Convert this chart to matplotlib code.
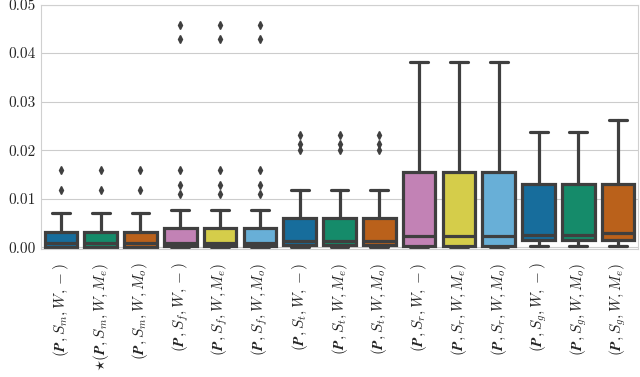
import matplotlib
matplotlib.use("Agg")
import matplotlib.pyplot as plt
import seaborn as sns

# box statistics (per configuration)
labels = [
    r"$(\boldsymbol{P},S_m,W,-)$", r"$\star(\boldsymbol{P},S_m,W,M_e)$", r"$(\boldsymbol{P},S_m,W,M_o)$",
    r"$(\boldsymbol{P},S_f,W,-)$", r"$(\boldsymbol{P},S_f,W,M_e)$", r"$(\boldsymbol{P},S_f,W,M_o)$",
    r"$(\boldsymbol{P},S_t,W,-)$", r"$(\boldsymbol{P},S_t,W,M_e)$", r"$(\boldsymbol{P},S_t,W,M_o)$",
    r"$(\boldsymbol{P},S_r,W,-)$", r"$(\boldsymbol{P},S_r,W,M_e)$", r"$(\boldsymbol{P},S_r,W,M_o)$",
    r"$(\boldsymbol{P},S_g,W,-)$", r"$(\boldsymbol{P},S_g,W,M_o)$", r"$(\boldsymbol{P},S_g,W,M_e)$",
]
whislo = [0.0, 0.0, 0.0, 0.0, 0.0, 0.0, 0.0, 0.0, 0.0, 0.0, 0.0, 0.0, 0.0003, 0.0003, 0.0003]
q1 = [0.0001, 0.0001, 0.0001, 0.0003, 0.0003, 0.0003, 0.0005, 0.0005, 0.0005,
      0.0003, 0.0003, 0.0003, 0.0016, 0.0016, 0.0016]
med = [0.0008, 0.0008, 0.0008, 0.0010, 0.0010, 0.0010, 0.0013, 0.0013, 0.0013,
       0.0023, 0.0023, 0.0023, 0.0025, 0.0025, 0.0030]
q3 = [0.0031, 0.0031, 0.0031, 0.0040, 0.0040, 0.0040, 0.0061, 0.0061, 0.0061,
      0.0156, 0.0156, 0.0156, 0.0131, 0.0131, 0.0131]
whishi = [0.0070, 0.0070, 0.0070, 0.0077, 0.0077, 0.0077, 0.0119, 0.0119, 0.0119,
          0.0381, 0.0381, 0.0381, 0.0237, 0.0237, 0.0263]
fliers = [
    [0.0118, 0.0160], [0.0118, 0.0160], [0.0118, 0.0160],
    [0.0109, 0.0129, 0.0160, 0.0430, 0.0458], [0.0109, 0.0129, 0.0160, 0.0430, 0.0458],
    [0.0109, 0.0129, 0.0160, 0.0430, 0.0458],
    [0.0201, 0.0212, 0.0232], [0.0201, 0.0212, 0.0232], [0.0201, 0.0212, 0.0232],
    [], [], [], [], [], [],
]

sns.set_style("whitegrid")
plt.rcParams["font.family"] = "serif"
plt.rcParams["font.serif"] = ["cmr10"]
plt.rcParams["mathtext.fontset"] = "cm"
plt.rcParams["axes.unicode_minus"] = False

cb = sns.color_palette("colorblind")
base = [cb[0], cb[2], cb[3], cb[4], cb[8], cb[9]]
colors = [sns.desaturate(base[i % 6], 0.75) for i in range(len(labels))]
line_c = "#3f3f3f"

stats = []
for i in range(len(labels)):
    stats.append(dict(whislo=whislo[i], q1=q1[i], med=med[i], q3=q3[i],
                      whishi=whishi[i], fliers=fliers[i]))

fig = plt.figure(figsize=(6.4, 3.77), dpi=100)
ax = fig.add_axes([0.064, 0.34, 0.933, 0.648])

bp = ax.bxp(stats, positions=range(len(labels)), widths=0.82, patch_artist=True,
            capwidths=0.45,
            boxprops=dict(linewidth=2.3, edgecolor=line_c),
            medianprops=dict(linewidth=2.3, color=line_c),
            whiskerprops=dict(linewidth=2.3, color=line_c),
            capprops=dict(linewidth=2.3, color=line_c),
            flierprops=dict(marker="d", markersize=4, markerfacecolor=line_c,
                            markeredgecolor=line_c))
for patch, c in zip(bp["boxes"], colors):
    patch.set_facecolor(c)

ax.set_xlim(-0.5, len(labels) - 0.5)
ax.set_ylim(-0.0003, 0.05)
ax.set_yticks([0.0, 0.01, 0.02, 0.03, 0.04, 0.05])
ax.set_yticklabels(["0.00", "0.01", "0.02", "0.03", "0.04", "0.05"], fontsize=11)
ax.set_xticks(range(len(labels)))
ax.set_xticklabels(labels, rotation=90, fontsize=11)
ax.xaxis.grid(False)
ax.tick_params(axis="y", length=0, pad=4)
ax.tick_params(axis="x", length=0, pad=10)
for s in ax.spines.values():
    s.set_color("#d0d0d0")

fig.savefig("out.png", dpi=100)
